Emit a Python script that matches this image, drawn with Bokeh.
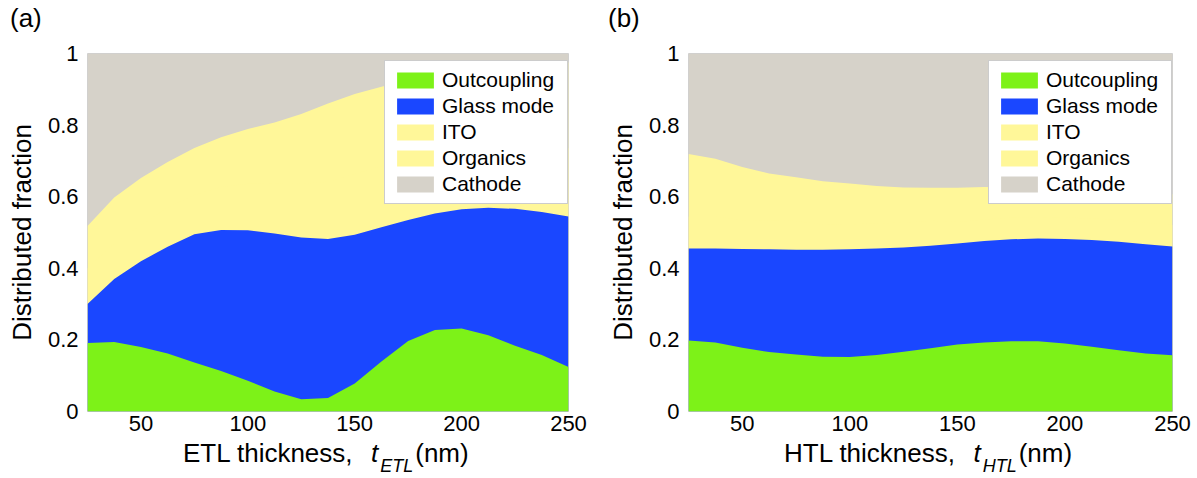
from bokeh.plotting import figure
from bokeh.models import Range1d, FixedTicker, Legend, LegendItem, ColumnDataSource, Div
from bokeh.layouts import row, column
from bokeh.transform import stack
from bokeh.embed import file_html
from bokeh.resources import INLINE

# ---------------- data ----------------
thickness = [25, 37.5, 50, 62.5, 75, 87.5, 100, 112.5, 125, 137.5, 150,
             162.5, 175, 187.5, 200, 212.5, 225, 237.5, 250]

# (a) ETL thickness sweep: fraction of power in each channel
etl_outcoupling = [0.191, 0.194, 0.180, 0.162, 0.137, 0.113, 0.086, 0.056, 0.034, 0.038,
                   0.078, 0.140, 0.197, 0.228, 0.232, 0.213, 0.184, 0.158, 0.124]
etl_glass = [0.109, 0.176, 0.240, 0.298, 0.358, 0.394, 0.420, 0.441, 0.452, 0.444,
             0.416, 0.375, 0.338, 0.325, 0.333, 0.356, 0.382, 0.399, 0.421]
etl_ito = [0.10, 0.10, 0.10, 0.11, 0.11, 0.12, 0.13, 0.14, 0.15, 0.16,
           0.17, 0.17, 0.17, 0.17, 0.17, 0.17, 0.18, 0.18, 0.19]
etl_organics = [0.118, 0.128, 0.132, 0.127, 0.131, 0.139, 0.153, 0.170, 0.195, 0.218,
                0.223, 0.222, 0.220, 0.217, 0.215, 0.219, 0.219, 0.233, 0.240]
etl_cathode = [0.482, 0.402, 0.348, 0.303, 0.264, 0.234, 0.211, 0.193, 0.169, 0.140,
               0.113, 0.093, 0.075, 0.060, 0.050, 0.042, 0.035, 0.030, 0.025]

# (b) HTL thickness sweep
htl_outcoupling = [0.198, 0.193, 0.178, 0.166, 0.159, 0.153, 0.152, 0.158, 0.167, 0.177,
                   0.187, 0.193, 0.196, 0.196, 0.190, 0.181, 0.171, 0.162, 0.157]
htl_glass = [0.257, 0.262, 0.276, 0.287, 0.293, 0.299, 0.301, 0.297, 0.291, 0.286,
             0.282, 0.283, 0.285, 0.287, 0.292, 0.298, 0.303, 0.305, 0.304]
htl_ito = [0.09, 0.09, 0.08, 0.08, 0.08, 0.07, 0.07, 0.07, 0.07, 0.07,
           0.06, 0.06, 0.06, 0.06, 0.06, 0.06, 0.06, 0.06, 0.06]
htl_organics = [0.174, 0.161, 0.149, 0.132, 0.122, 0.121, 0.114, 0.105, 0.098, 0.092,
                0.096, 0.091, 0.085, 0.081, 0.079, 0.079, 0.080, 0.083, 0.086]
htl_cathode = [0.281, 0.294, 0.317, 0.335, 0.346, 0.357, 0.363, 0.370, 0.374, 0.375,
               0.375, 0.373, 0.374, 0.376, 0.379, 0.382, 0.386, 0.390, 0.393]

series_names = ["Outcoupling", "Glass mode", "ITO", "Organics", "Cathode"]
series_keys = ["outcoupling", "glass", "ito", "organics", "cathode"]
series_colors = ["#7DF218", "#1A47FF", "#FFF799", "#FFF799", "#D6D2C9"]

x_ticks = [50, 100, 150, 200, 250]
y_ticks = [0, 0.2, 0.4, 0.6, 0.8, 1]
y_tick_labels = ["0", "0.2", "0.4", "0.6", "0.8", "1"]

FONT = "Liberation Sans"
TAG_H = 36          # div holding the panel letter
FIG_H = 402         # figure height
LABEL_H = 36        # div holding the x-axis label
FRAME_TOP = 17      # inside the figure
FRAME_H = 358


def make_panel(tag, layer, values, width, frame_left, frame_width, label_pad):
    p = figure(width=width, height=FIG_H, x_range=Range1d(25, 250), y_range=Range1d(0, 1),
               output_backend="svg", toolbar_location=None,
               min_border_left=frame_left, min_border_right=width - frame_left - frame_width,
               min_border_top=FRAME_TOP, min_border_bottom=FIG_H - FRAME_TOP - FRAME_H)
    src = ColumnDataSource(dict(x=thickness, **dict(zip(series_keys, values))))

    # painter's order: each cumulative area drawn from 0, outermost layer first
    rends = {}
    for i in range(len(series_keys) - 1, -1, -1):
        rends[i] = p.varea(x="x", y1=0, y2=stack(*series_keys[:i + 1]), source=src,
                           fill_color=series_colors[i], fill_alpha=1)

    items = [LegendItem(label=series_names[i], renderers=[rends[i]])
             for i in range(len(series_names))]
    legend = Legend(items=items, location=(frame_width - 184, 207), margin=0,
                    glyph_width=46, glyph_height=20, label_height=20, label_width=118,
                    spacing=2, padding=7, label_standoff=4,
                    label_text_font=FONT, label_text_font_size="21px",
                    label_text_color="#000000",
                    border_line_color="#9A9A9A", border_line_width=1,
                    background_fill_color="white", background_fill_alpha=1)
    p.add_layout(legend)

    p.xgrid.visible = False
    p.ygrid.visible = False
    p.background_fill_color = "white"
    p.border_fill_color = "white"
    p.outline_line_color = "#CFCFCF"

    p.xaxis.ticker = FixedTicker(ticks=x_ticks)
    p.yaxis.ticker = FixedTicker(ticks=y_ticks)
    p.yaxis.major_label_overrides = {t: l for t, l in zip(y_ticks, y_tick_labels)}
    for ax in (p.xaxis[0], p.yaxis[0]):
        ax.axis_line_color = None
        ax.major_tick_line_color = None
        ax.minor_tick_line_color = None
        ax.major_label_text_font = FONT
        ax.major_label_text_font_size = "22px"
        ax.major_label_text_color = "#000000"
    p.xaxis.major_label_standoff = -2
    p.yaxis.major_label_standoff = 3
    p.yaxis.axis_label = "Distributed fraction"
    p.yaxis.axis_label_text_font = FONT
    p.yaxis.axis_label_text_font_size = "26px"
    p.yaxis.axis_label_text_font_style = "normal"
    p.yaxis.axis_label_text_color = "#000000"
    p.yaxis.axis_label_standoff = 8

    tag_div = Div(
        text=(f'<div style="font-family:\'{FONT}\';font-size:26px;line-height:30px;'
              f'color:#000;padding-top:3px;padding-left:10px;white-space:nowrap;">{tag}</div>'),
        width=width, height=TAG_H, margin=0)

    label_div = Div(
        text=(f'<div style="font-family:\'{FONT}\';font-size:26px;line-height:30px;color:#000;'
              f'white-space:nowrap;padding-left:{label_pad}px;">'
              f'{layer} thickness,&nbsp;&nbsp;'
              f'<span style="font-style:italic;margin-left:4px;">t</span>'
              f'<span style="font-style:italic;font-size:18px;position:relative;top:10px;'
              f'margin-left:2px;margin-right:2px;">{layer}</span>'
              f'(nm)</div>'),
        width=width, height=LABEL_H, margin=0)
    return column(tag_div, p, label_div, spacing=0)


pa = make_panel("(a)", "ETL",
                [etl_outcoupling, etl_glass, etl_ito, etl_organics, etl_cathode],
                598, 87, 481, 183)
pb = make_panel("(b)", "HTL",
                [htl_outcoupling, htl_glass, htl_ito, htl_organics, htl_cathode],
                599, 90, 484, 186)

layout = row(pa, pb, spacing=0)
open("out.html", "w").write(file_html(layout, INLINE))
